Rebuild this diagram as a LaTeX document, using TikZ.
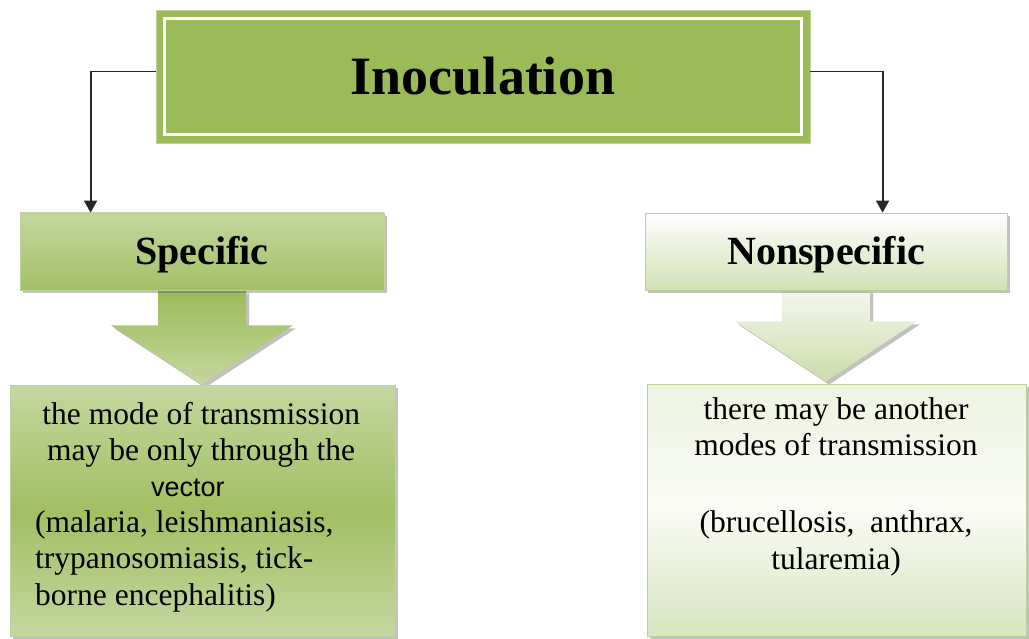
\documentclass[tikz,border=0pt]{standalone}
\usepackage{fontspec}
\setmainfont{Liberation Serif}
\newfontfamily\sansfont{Liberation Sans}
\usetikzlibrary{arrows.meta,shadows,calc,backgrounds}

\definecolor{leafgreen}{HTML}{9BBB59}
\definecolor{leaflight}{HTML}{C4D79F}
\definecolor{leafmid}{HTML}{A3C066}
\definecolor{leafpale}{HTML}{D8E5BE}
\definecolor{leafedge}{HTML}{BCD296}

\begin{document}
\begin{tikzpicture}[x=1pt,y=-1pt,
  softshadow/.style={drop shadow={shadow xshift=3pt,shadow yshift=-3pt,opacity=0.35,fill=black!70}},
  headbox/.style={rectangle,fill=leafgreen,draw=leafedge,line width=0.8pt,
    font=\bfseries\fontsize{54}{60}\selectfont},
  catbox/.style={rectangle,draw=leafedge,line width=0.8pt,softshadow,
    font=\bfseries\fontsize{40}{44}\selectfont,text depth=2pt},
  infobox/.style={rectangle,draw=leafedge,line width=0.8pt,softshadow},
  bodytext/.style={inner sep=0pt,font=\fontsize{31.5}{36.2}\selectfont},
  blockarrow/.style={softshadow},
  conn/.style={draw=black!85,line width=1.8pt,-{Triangle[length=12pt,width=13pt]}}]

\useasboundingbox (0,0) rectangle (1029,639);

% main heading
\node[headbox,minimum width=654pt,minimum height=133pt] (top) at (483,76.5) {Inoculation};
\draw[white,line width=2.5pt] ($(top.north west)+(9,9)$) rectangle ($(top.south east)+(-9,-9)$);

% the two categories
\node[catbox,top color=leaflight,bottom color=leafmid,
      minimum width=364pt,minimum height=77pt] (spec) at (202,251.5) {Specific};
\node[catbox,top color=white,bottom color=leafpale!90!leafgreen,
      minimum width=362pt,minimum height=77pt] (nons) at (826,251.5) {Nonspecific};

% description boxes
\node[infobox,top color=leaflight,bottom color=leaflight,middle color=leafmid!80!leafgreen,
      minimum width=385pt,minimum height=251pt] (lbox) at (202.5,510.5) {};
\node[infobox,top color=leafpale!45!white,bottom color=leafpale,middle color=leafpale!15!white,
      minimum width=379pt,minimum height=252pt] (rbox) at (836.5,510) {};

\node[bodytext,anchor=base west,align=left] (ltext) at (35,605)
  {\makebox[332pt][c]{the mode of transmission}\\
   \makebox[332pt][c]{may be only through the}\\
   \hspace*{116pt}{\sansfont\fontsize{27}{36.2}\selectfont vector}\\
   (malaria, leishmaniasis,\\
   trypanosomiasis, tick-\\
   borne encephalitis)};

\node[bodytext,anchor=base,align=center] (rtext) at (836,569)
  {there may be another\\
   modes of transmission\\[41pt]
   (brucellosis,\ \ anthrax,\\
   tularemia)};

% block arrows from the categories down to their descriptions
\begin{pgfonlayer}{background}
\path[blockarrow,top color=leafgreen,bottom color=leaflight]
  ($(spec.south)+(-44,0)$) -- ($(spec.south)+(-44,35)$) -- ($(spec.south)+(-91,35)$)
  -- (spec.south |- lbox.north)
  -- ($(spec.south)+(91,35)$) -- ($(spec.south)+(44,35)$) -- ($(spec.south)+(44,0)$) -- cycle;
\path[blockarrow,top color=leafpale!30!white,bottom color=leafpale!80!leafgreen]
  ($(nons.south)+(-44,0)$) -- ($(nons.south)+(-44,31)$) -- ($(nons.south)+(-91,31)$)
  -- ($(nons.south |- rbox.north)+(0,-2)$)
  -- ($(nons.south)+(91,31)$) -- ($(nons.south)+(44,31)$) -- ($(nons.south)+(44,0)$) -- cycle;
\end{pgfonlayer}

% connectors from the heading, leaving it a little above its middle
\coordinate (specin) at ($(spec.north west)+(71,0)$);
\coordinate (nonsin) at ($(nons.north west)+(238,0)$);
\draw[conn] ($(top.west)+(0,-5)$) -| (specin);
\draw[conn] ($(top.east)+(0,-5)$) -| (nonsin);

\end{tikzpicture}
\end{document}
